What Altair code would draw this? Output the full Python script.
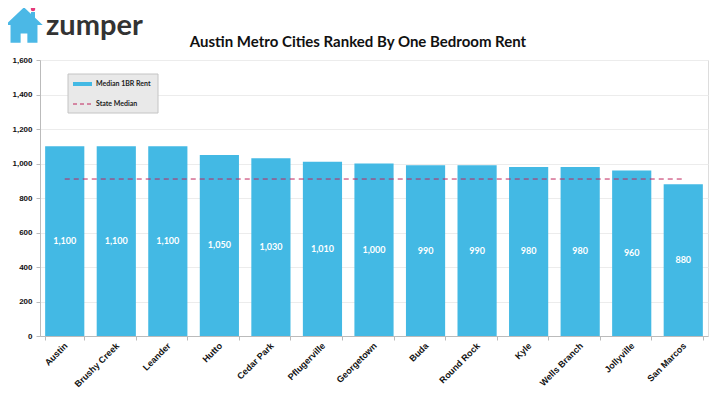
import altair as alt
import pandas as pd

cities = ["Austin", "Brushy Creek", "Leander", "Hutto", "Cedar Park", "Pflugerville",
          "Georgetown", "Buda", "Round Rock", "Kyle", "Wells Branch", "Jollyville", "San Marcos"]
rents = [1100, 1100, 1100, 1050, 1030, 1010, 1000, 990, 990, 980, 980, 960, 880]
state_median = 910
y_ticks = [0, 200, 400, 600, 800, 1000, 1200, 1400, 1600]

df = pd.DataFrame({"city": cities, "rent": rents, "median": [state_median] * len(cities)})

FONT = "Lato"
BLUE = "#43B9E4"
RED = "#C0245C"

x_axis = alt.Axis(labelAngle=-45, labelFontSize=9, labelFontWeight="bold",
                  labelColor="#111", tickBand="extent", tickColor="#bbb",
                  domainColor="#bbb", labelPadding=1, tickSize=4,
                  labelAlign="right", labelBaseline="top", labelOffset=-2)
y_axis = alt.Axis(values=y_ticks, format=",d", labelFontSize=8, labelFontWeight="bold",
                  labelColor="#111", gridColor="#ececec", domainColor="#bbb",
                  tickColor="#bbb", tickSize=4, labelPadding=4)
x_scale = alt.Scale(paddingInner=0.24, paddingOuter=0.1)
y_scale = alt.Scale(domain=[0, 1600])

base = alt.Chart(df)

bars = base.mark_bar(color=BLUE).encode(
    x=alt.X("city:N", sort=cities, title=None, scale=x_scale, axis=x_axis),
    y=alt.Y("rent:Q", scale=y_scale, title=None, axis=y_axis),
)

labels = base.transform_calculate(mid="datum.rent / 2").mark_text(
    color="white", fontSize=9, fontWeight="bold", font=FONT
).encode(
    x=alt.X("city:N", sort=cities, title=None, scale=x_scale, axis=x_axis),
    y=alt.Y("mid:Q", scale=y_scale, title=None, axis=y_axis),
    text=alt.Text("rent:Q", format=","),
)

median_line = base.mark_line(color=RED, strokeDash=[5, 4], strokeWidth=1).encode(
    x=alt.X("city:N", sort=cities, title=None, scale=x_scale, axis=x_axis),
    y=alt.Y("median:Q", scale=y_scale, title=None, axis=y_axis),
)

one = alt.Chart(pd.DataFrame({"k": [0]}))

legend_box = one.mark_rect(fill="#e9e9e9", stroke="#c4c4c4", strokeWidth=1).encode(
    x=alt.value(28), x2=alt.value(118), y=alt.value(14), y2=alt.value(53))
legend_swatch = one.mark_rect(fill=BLUE).encode(
    x=alt.value(33), x2=alt.value(52), y=alt.value(22), y2=alt.value(26))
legend_dash = one.mark_rule(color=RED, strokeDash=[4, 3], strokeWidth=1).encode(
    x=alt.value(33), x2=alt.value(52), y=alt.value(44))
legend_t1 = one.mark_text(text="Median 1BR Rent", align="left", baseline="middle",
                          fontSize=7, fontWeight="bold", font=FONT, color="#222").encode(
    x=alt.value(56), y=alt.value(24))
legend_t2 = one.mark_text(text="State Median", align="left", baseline="middle",
                          fontSize=7, fontWeight="bold", font=FONT, color="#222").encode(
    x=alt.value(56), y=alt.value(44))

title_text = one.mark_text(text="Austin Metro Cities Ranked By One Bedroom Rent",
                           align="center", baseline="middle", fontSize=15,
                           fontWeight="bold", font=FONT, color="#111").encode(
    x=alt.value(318), y=alt.value(-18))

house_path = "M0,-1 L1,-0.05 L0.72,-0.05 L0.72,0.9 L0.18,0.9 L0.18,0.4 L-0.18,0.4 L-0.18,0.9 L-0.72,0.9 L-0.72,-0.05 L-1,-0.05 Z"
logo_house = one.mark_point(shape=house_path, filled=True, color="#4BB8E6", size=1400, opacity=1).encode(
    x=alt.value(-16), y=alt.value(-34))
logo_chimney = one.mark_rect(fill="#4BB8E6").encode(
    x=alt.value(-9), x2=alt.value(-5), y=alt.value(-48), y2=alt.value(-38))
logo_heart = one.mark_point(shape="circle", filled=True, color="#E5397A", size=20, opacity=1).encode(
    x=alt.value(-7), y=alt.value(-51))
logo_text = one.mark_text(text="zumper", align="left", baseline="middle", fontSize=29,
                          fontWeight="bold", font=FONT, color="#333").encode(
    x=alt.value(6), y=alt.value(-34))

chart = alt.layer(
    bars, labels, median_line,
    legend_box, legend_swatch, legend_dash, legend_t1, legend_t2,
    title_text, logo_house, logo_chimney, logo_heart, logo_text,
).properties(
    width=668, height=276,
    autosize=alt.AutoSizeParams(type="none"),
    padding={"left": 32, "top": 52, "right": 4, "bottom": 60},
).configure_view(stroke="#c8c8c8", strokeWidth=1).configure_axis(
    labelFont=FONT
).configure(background="white")

chart.save("out.html", embed_options={"renderer": "svg", "actions": False})
